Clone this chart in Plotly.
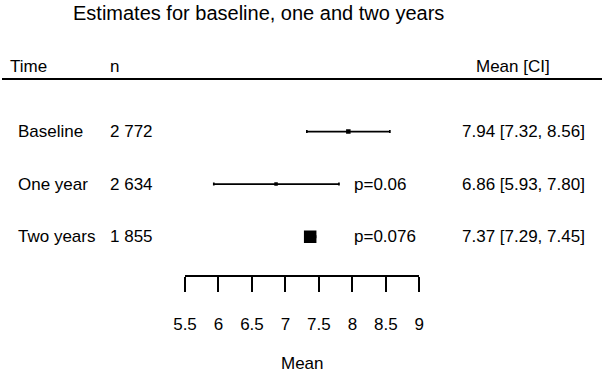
import plotly.graph_objects as go

# ---- data ----
times = ["Baseline", "One year", "Two years"]
n_labels = ["2 772", "2 634", "1 855"]
means = [7.94, 6.86, 7.37]
lower = [7.32, 5.93, 7.29]
upper = [8.56, 7.80, 7.45]
p_labels = ["", "p=0.06", "p=0.076"]
tick_vals = [5.5, 6, 6.5, 7, 7.5, 8, 8.5, 9]
tick_text = ["5.5", "6", "6.5", "7", "7.5", "8", "8.5", "9"]

W, H = 604, 379
FONT = "Arial, Liberation Sans, sans-serif"

rows = [len(times) - i for i in range(len(times))]  # 3, 2, 1 (top to bottom)
ci_labels = [f"{m:.2f} [{l:.2f}, {u:.2f}]" for m, l, u in zip(means, lower, upper)]
err_plus = [u - m for u, m in zip(upper, means)]
err_minus = [m - l for m, l in zip(means, lower)]
box_sizes = [4.5, 3.5, 12.5]


def px_x(p):
    return p / W


def px_y(p):
    return 1 - p / H


fig = go.Figure()
# confidence intervals
fig.add_trace(go.Scatter(
    x=means, y=rows, mode="markers",
    marker=dict(size=1, color="rgba(0,0,0,0)"),
    error_x=dict(type="data", symmetric=False, array=err_plus, arrayminus=err_minus,
                 color="#000000", thickness=1.7, width=1.5),
    showlegend=False, hoverinfo="skip",
))
# point estimates (boxes)
fig.add_trace(go.Scatter(
    x=means, y=rows, mode="markers",
    marker=dict(symbol="square", size=box_sizes, color="#000000", opacity=1,
                line=dict(width=0, color="#000000")),
    showlegend=False, hoverinfo="skip",
))

annotations = []
# title
annotations.append(dict(text="Estimates for baseline, one and two years", x=px_x(258), y=px_y(13),
                        xref="paper", yref="paper", xanchor="center", yanchor="middle",
                        showarrow=False, font=dict(size=20, color="black", family=FONT)))
# headers
for txt, xp, anc in [("Time", 8, "left"), ("n", 108, "left"), ("Mean [CI]", 513, "center")]:
    annotations.append(dict(text=txt, x=px_x(xp), y=px_y(66), xref="paper", yref="paper",
                            xanchor=anc, yanchor="middle", showarrow=False,
                            font=dict(size=17, color="black", family=FONT)))
# row texts
for r, t, n, ci, p in zip(rows, times, n_labels, ci_labels, p_labels):
    annotations.append(dict(text=t, x=px_x(16), y=r, xref="paper", yref="y",
                            xanchor="left", yanchor="middle", showarrow=False,
                            font=dict(size=17, color="black", family=FONT)))
    annotations.append(dict(text=n, x=px_x(108), y=r, xref="paper", yref="y",
                            xanchor="left", yanchor="middle", showarrow=False,
                            font=dict(size=17, color="black", family=FONT)))
    annotations.append(dict(text=ci, x=px_x(587), y=r, xref="paper", yref="y",
                            xanchor="right", yanchor="middle", showarrow=False,
                            font=dict(size=17, color="black", family=FONT)))
    if p:
        annotations.append(dict(text=p, x=px_x(352), y=r, xref="paper", yref="y",
                                xanchor="left", yanchor="middle", showarrow=False,
                                font=dict(size=17, color="black", family=FONT)))
# axis title
annotations.append(dict(text="Mean", x=px_x(302), y=px_y(363), xref="paper", yref="paper",
                        xanchor="center", yanchor="middle", showarrow=False,
                        font=dict(size=17, color="black", family=FONT)))

fig.update_layout(
    template="none",
    width=W, height=H,
    margin=dict(l=0, r=0, t=0, b=0, pad=0, autoexpand=False),
    paper_bgcolor="white", plot_bgcolor="white",
    annotations=annotations,
    shapes=[dict(type="line", xref="paper", yref="paper", x0=px_x(2), x1=px_x(602),
                 y0=px_y(79), y1=px_y(79), line=dict(color="black", width=2))],
    xaxis=dict(domain=[px_x(185), px_x(419.3)], range=[5.5, 9], automargin=False,
               showline=True, linecolor="black", linewidth=1.5,
               ticks="outside", ticklen=15, tickwidth=1.5, tickcolor="black",
               tickvals=tick_vals, ticktext=tick_text, ticklabelstandoff=18,
               tickfont=dict(size=17, color="black", family=FONT),
               showgrid=False, zeroline=False, fixedrange=True),
    yaxis=dict(domain=[px_y(275), px_y(79)], range=[0.27, 4.0], visible=False, automargin=False,
               showgrid=False, zeroline=False, fixedrange=True),
)

fig.write_html("out.html", config={"displayModeBar": False},
               post_script="document.body.style.margin='0';document.body.style.overflow='hidden';")
